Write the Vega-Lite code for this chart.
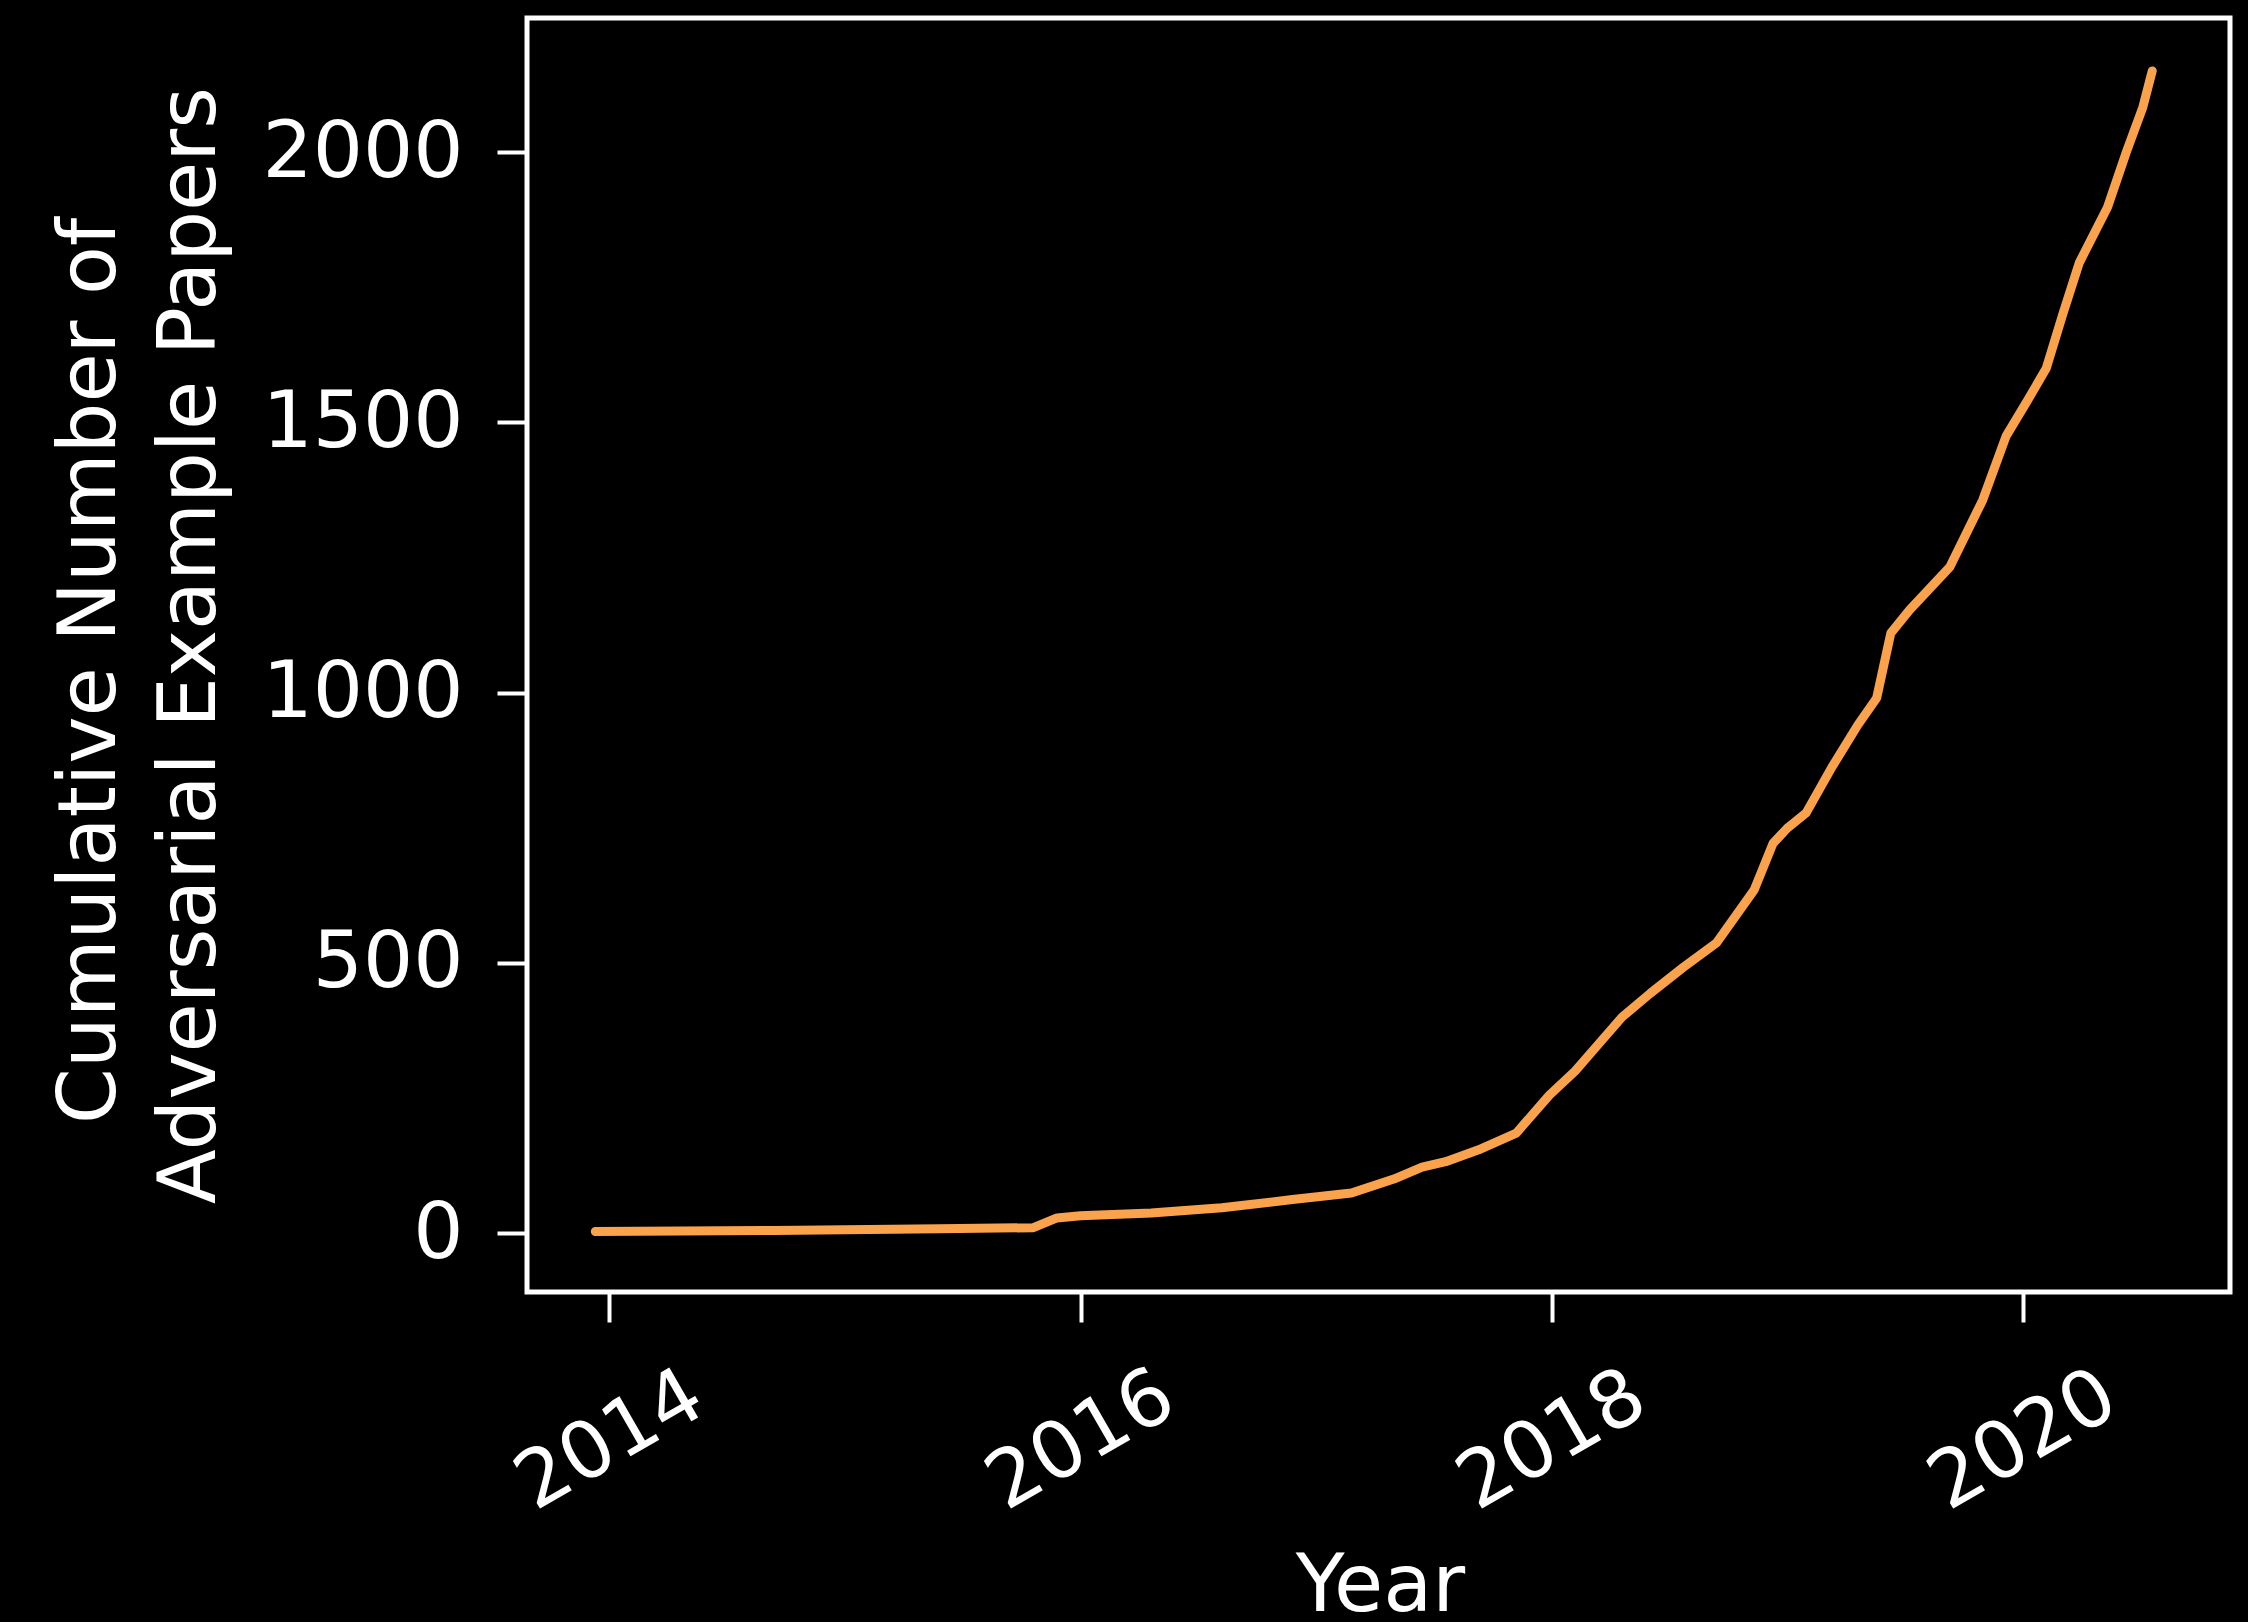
{
  "$schema": "https://vega.github.io/schema/vega-lite/v6.json",
  "width": 1703,
  "height": 1274,
  "autosize": {"type": "none"},
  "padding": {"left": 527, "top": 18, "right": 18, "bottom": 330},
  "background": "black",
  "config": {
    "view": {"stroke": "white", "strokeWidth": 5, "fill": "black"},
    "font": "DejaVu Sans"
  },
  "data": {
    "values": [
      {"year": 2013.94, "papers": 3},
      {"year": 2014.3, "papers": 4},
      {"year": 2014.7, "papers": 5},
      {"year": 2015.0, "papers": 6},
      {"year": 2015.4, "papers": 8},
      {"year": 2015.8, "papers": 10},
      {"year": 2015.9, "papers": 28},
      {"year": 2016.0, "papers": 32},
      {"year": 2016.3, "papers": 37},
      {"year": 2016.6, "papers": 47},
      {"year": 2016.9, "papers": 62},
      {"year": 2017.15, "papers": 74},
      {"year": 2017.33, "papers": 100},
      {"year": 2017.45, "papers": 122},
      {"year": 2017.55, "papers": 132},
      {"year": 2017.69, "papers": 154},
      {"year": 2017.85, "papers": 185},
      {"year": 2017.99, "papers": 255},
      {"year": 2018.1, "papers": 300},
      {"year": 2018.2, "papers": 350},
      {"year": 2018.3, "papers": 400},
      {"year": 2018.42, "papers": 444},
      {"year": 2018.56, "papers": 492},
      {"year": 2018.7, "papers": 537},
      {"year": 2018.86, "papers": 635},
      {"year": 2018.94, "papers": 721},
      {"year": 2019.0, "papers": 749},
      {"year": 2019.08, "papers": 777},
      {"year": 2019.19, "papers": 862},
      {"year": 2019.3, "papers": 940},
      {"year": 2019.38, "papers": 990},
      {"year": 2019.44, "papers": 1110},
      {"year": 2019.52, "papers": 1153},
      {"year": 2019.69, "papers": 1232},
      {"year": 2019.83, "papers": 1356},
      {"year": 2019.93, "papers": 1475},
      {"year": 2020.02, "papers": 1540},
      {"year": 2020.1, "papers": 1600},
      {"year": 2020.17, "papers": 1700},
      {"year": 2020.24, "papers": 1795},
      {"year": 2020.36, "papers": 1898},
      {"year": 2020.44, "papers": 2000},
      {"year": 2020.51, "papers": 2083},
      {"year": 2020.55, "papers": 2150}
    ]
  },
  "mark": {"type": "line", "color": "#fba24c", "strokeWidth": 9, "strokeJoin": "round", "strokeCap": "round"},
  "encoding": {
    "x": {
      "field": "year",
      "type": "quantitative",
      "scale": {"domain": [2013.65, 2020.88], "nice": false, "zero": false},
      "axis": {
        "title": "Year",
        "values": [2014, 2016, 2018, 2020],
        "format": "d",
        "grid": false,
        "domain": false,
        "ticks": true,
        "tickColor": "white",
        "tickWidth": 4,
        "tickSize": 30,
        "labelColor": "white",
        "labelFont": "DejaVu Sans",
        "labelFontSize": 79,
        "labelLimit": 0,
        "labelAngle": -30,
        "labelAlign": "center",
        "labelBaseline": "middle",
        "labelPadding": 118,
        "labelOverlap": false,
        "labelFlush": false,
        "labelBound": false,
        "titleColor": "white",
        "titleFont": "DejaVu Sans",
        "titleFontSize": 80,
        "titleFontWeight": "normal",
        "titleX": 853,
        "titleY": 318,
        "titleAlign": "center",
        "titleBaseline": "alphabetic"
      }
    },
    "y": {
      "field": "papers",
      "type": "quantitative",
      "scale": {"domain": [-109, 2248], "nice": false, "zero": false},
      "axis": {
        "title": ["Cumulative Number of\u00a0\u00a0\u200d", "Adversarial Example Papers"],
        "values": [0, 500, 1000, 1500, 2000],
        "format": "d",
        "grid": false,
        "domain": false,
        "tickColor": "white",
        "tickWidth": 4,
        "tickSize": 30,
        "labelColor": "white",
        "labelFont": "DejaVu Sans",
        "labelFontSize": 79,
        "labelLimit": 0,
        "labelAlign": "right",
        "labelBaseline": "middle",
        "labelPadding": 34,
        "labelOverlap": false,
        "labelFlush": false,
        "labelBound": false,
        "titleColor": "white",
        "titleFont": "DejaVu Sans",
        "titleFontSize": 80,
        "titleFontWeight": "normal",
        "titleAngle": -90,
        "titleX": -413,
        "titleY": 627,
        "titleAlign": "center",
        "titleBaseline": "alphabetic",
        "titleLineHeight": 100,
        "titleLimit": 0
      }
    }
  }
}
